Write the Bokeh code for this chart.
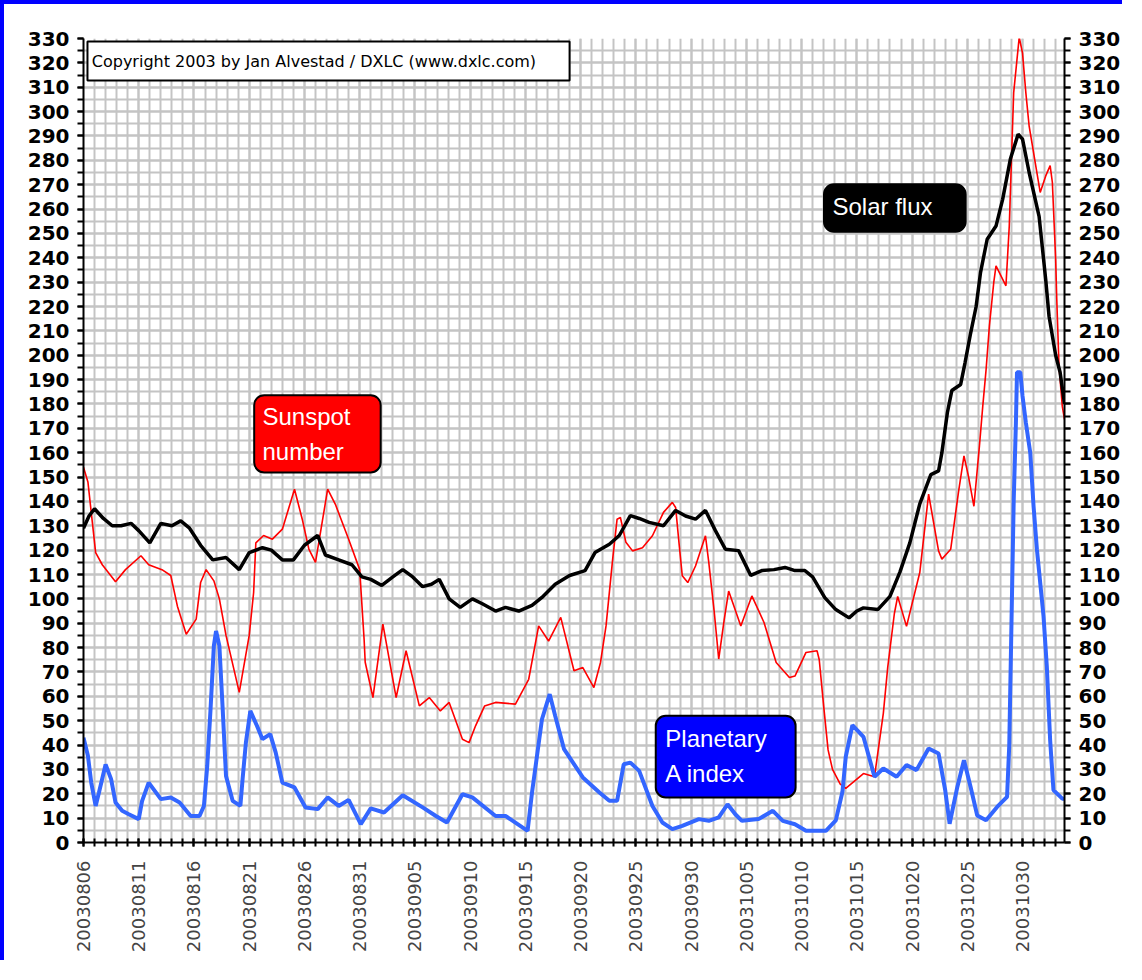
import math
from bokeh.plotting import figure
from bokeh.models import Range1d, LinearAxis, FixedTicker, BoxAnnotation, Label
from bokeh.embed import file_html
from bokeh.resources import INLINE

# ---------------- data ----------------
date_labels = ["20030806", "20030811", "20030816", "20030821", "20030826", "20030831",
               "20030905", "20030910", "20030915", "20030920", "20030925", "20030930",
               "20031005", "20031010", "20031015", "20031020", "20031025", "20031030"]
label_days = [0, 5, 10, 15, 20, 25, 30, 35, 40, 45, 50, 55, 60, 65, 70, 75, 80, 85]

# Solar flux (days after 2003-08-06, value)
flux_day = [0, 0.5, 1.0, 1.8, 2.6, 3.4, 4.3, 5.0, 6.0, 7.0, 8.0, 8.8, 9.6, 10.6, 11.7, 12.9,
            14.1, 15.0, 16.2, 17.0, 18.0, 19.0, 20.0, 21.2, 21.9, 23.1, 24.3, 25.2, 26.0, 27.0,
            28.0, 28.9, 29.8, 30.7, 31.5, 32.2, 33.1, 34.1, 35.2, 36.1, 37.3, 38.2, 39.4, 40.6,
            41.5, 42.7, 44.0, 45.4, 46.3, 47.6, 48.5, 49.5, 50.3, 51.2, 52.5, 53.6, 54.5, 55.4,
            56.3, 57.2, 58.1, 59.3, 60.4, 61.4, 62.5, 63.5, 64.4, 65.3, 66.0, 67.1, 68.1, 69.3,
            70.0, 70.6, 71.9, 73.0, 73.9, 74.8, 75.7, 76.7, 77.4, 77.7, 78.2, 78.6, 79.4, 79.8,
            80.3, 80.8, 81.2, 81.8, 82.6, 83.2, 83.9, 84.6, 85.0, 85.6, 86.5, 87.1, 87.4, 88.0,
            88.4, 88.8]
flux_val = [129, 134, 137, 133, 130, 130, 131, 128, 123, 131, 130, 132, 129, 122, 116, 117,
            112, 119, 121, 120, 116, 116, 122, 126, 118, 116, 114, 109, 108, 105.5,
            109, 112, 109, 105, 106, 108, 100, 96.5, 100, 98, 95, 96.5, 95, 97.3,
            100.6, 106, 109.6, 111.6, 119, 122.4, 126, 134.2, 133, 131.4, 130, 136.3, 134, 132.7,
            136.3, 128, 120.4, 119.8, 109.6, 111.6, 112, 112.9, 111.6, 111.6, 109, 100.5, 95.6, 92.2,
            95, 96.3, 95.6, 101, 111, 123, 139, 151, 152.5, 160, 176.5, 185.5, 188, 197,
            209, 220, 234, 247.6, 253, 264, 280.5, 290.7, 288.7, 275, 257, 231, 216, 200,
            193, 180]

# Sunspot number
ssn_day = [0, 0.4, 1.1, 1.7, 2.9, 3.8, 5.2, 5.9, 7.1, 7.9, 8.5, 9.3, 10.2, 10.6, 11.1, 11.8,
           12.3, 12.9, 14.1, 15.0, 15.4, 15.6, 16.3, 17.1, 18.0, 19.1, 19.8, 20.4, 21.0, 21.5,
           22.1, 22.8, 24.0, 25.0, 25.4, 25.5, 26.2, 27.1, 28.3, 29.2, 30.4, 31.3, 32.3, 33.1,
           34.3, 34.9, 35.5, 36.3, 37.3, 39.1, 40.3, 41.2, 42.1, 43.2, 44.4, 45.2, 46.2, 46.8,
           47.3, 47.9, 48.3, 48.6, 49.1, 49.7, 50.6, 51.5, 52.5, 53.3, 53.6, 53.9, 54.2, 54.7,
           55.4, 56.3, 56.6, 57.1, 57.5, 58.0, 58.4, 59.5, 60.5, 61.6, 62.7, 63.9, 64.4, 65.4,
           66.4, 66.6, 67.0, 67.4, 67.8, 68.5, 69.0, 70.6, 71.6, 72.4, 72.8, 73.4, 73.7, 74.5,
           75.7, 76.5, 77.4, 77.7, 78.5, 79.2, 79.7, 80.1, 80.6, 81.1, 81.4, 81.7, 82.0, 82.4,
           82.6, 83.5, 83.8, 84.2, 84.7, 85.0, 85.3, 85.6, 86.6, 87.1, 87.5, 87.7, 88.0, 88.1,
           88.3, 88.6, 88.8]
ssn_val = [154, 148, 119, 114, 107, 112, 117.7, 114, 112, 109.6, 97, 85.5, 91.7, 106.7, 112, 107.4,
           100, 85, 61.6, 85, 102.6, 123, 126, 124.5, 128.6, 145, 132.7, 120.4, 115, 128.6,
           145, 138.8, 124.5, 112, 83.4, 74, 59.5, 89.6, 59.5, 78.7, 56.1, 59.5, 54, 57.5,
           42.4, 41, 48, 56, 57.5, 56.8, 67, 88.9, 82.7, 92.4, 70.5, 71.8, 63.6, 73.9,
           88.9, 116.3, 132.7, 133.4, 123.2, 119.7, 121, 125.9, 135.5, 139.6, 137.5, 123.2, 109.5, 106.7,
           113.5, 125.9, 115, 94.4, 75.3, 91.6, 103.2, 88.9, 101.2, 90.3, 73.9, 67.7, 68.3, 78,
           78.7, 75, 56, 38, 30, 24, 22.2, 28.3, 27, 53, 72, 94, 101, 88.7,
           110.8, 143, 119.7, 116.3, 120.4, 143.7, 158.7, 150.5, 138, 162.8, 179, 194, 212, 230,
           236.7, 228.5, 253, 307.8, 330.5, 324, 307.8, 294, 266.8, 273.6, 277.8, 271, 239.4, 223,
           195.7, 179, 173.7]

# Planetary A index
ap_day = [0, 0.4, 0.7, 1.1, 1.4, 2.0, 2.5, 2.9, 3.5, 4.1, 5.0, 5.3, 5.9, 7.0, 7.9, 8.7,
          9.7, 10.5, 10.9, 11.2, 11.5, 11.8, 12.0, 12.3, 12.6, 12.9, 13.5, 14.2, 14.4, 14.7,
          15.1, 15.7, 16.2, 16.9, 17.4, 18.0, 19.1, 20.1, 21.2, 22.1, 23.1, 24.0, 25.1, 26.0,
          27.2, 28.9, 30.7, 31.9, 32.9, 34.3, 35.2, 37.3, 38.2, 40.2, 40.6, 41.5, 42.2, 42.7,
          43.5, 45.2, 46.7, 47.6, 48.3, 48.9, 49.5, 50.3, 51.5, 52.4, 53.3, 54.2, 55.7, 56.6,
          57.5, 58.3, 59.0, 59.6, 61.1, 62.4, 63.3, 64.4, 65.4, 67.2, 68.1, 68.7, 69.0, 69.6,
          70.6, 71.6, 72.4, 73.6, 74.5, 75.4, 76.5, 77.4, 78.0, 78.4, 79.1, 79.7, 80.3, 80.9,
          81.7, 82.7, 83.6, 83.8, 84.0, 84.2, 84.4, 84.5, 84.8, 85.0, 85.3, 85.7, 86.0, 86.3,
          86.9, 87.2, 87.5, 87.8, 88.6, 88.8]
ap_val = [43, 35.6, 24.6, 15, 20.5, 32, 26, 16.4, 13, 11.6, 9.6, 17, 24.6, 17.8, 18.5, 16.4,
          10.9, 10.9, 15, 31.4, 54.7, 80.7, 86.8, 80.7, 54.7, 27.3, 17.1, 15, 26, 41,
          54, 47.9, 42.4, 44.5, 36.9, 24.6, 22.6, 14.4, 13.7, 18.5, 15, 17.5, 7.5, 14,
          12.3, 19.4, 14.4, 10.9, 8.2, 19.8, 18.5, 10.9, 10.9, 4.8, 20.5, 50.6, 60.9, 51.9,
          38.3, 26.7, 20.5, 17.1, 17.1, 32.1, 32.8, 29.4, 15, 8.2, 5.5, 6.8, 9.6, 8.9,
          10.3, 15.7, 11.6, 8.9, 9.6, 13, 8.9, 7.5, 4.8, 4.8, 9.1, 20.8, 35.2, 48.2,
          43.4, 27, 30.4, 27, 31.8, 29.7, 38.6, 36.5, 21.5, 7.7, 22.8, 33.8, 22.8, 11.1,
          9.1, 14.6, 18.7, 40, 90, 140, 172, 193, 193, 183.3, 172.4, 160, 138, 120.4,
          92.9, 72.2, 42, 21.5, 18, 18]

# ---------------- figure ----------------
p = figure(width=1122, height=960,
           x_range=Range1d(0, 88.8), y_range=Range1d(0, 330),
           output_backend="svg", toolbar_location=None,
           min_border_left=79, min_border_right=62, min_border_top=34, min_border_bottom=122,
           background_fill_color="white", border_fill_color="white",
           outline_line_color=None)
p.styles = {"border-left": "4px solid #0000ff", "border-top": "4px solid #0000ff"}

xt = FixedTicker(ticks=label_days, minor_ticks=list(range(0, 89)))
yt = FixedTicker(ticks=list(range(0, 331, 10)), minor_ticks=list(range(0, 331, 5)))

xa = p.xaxis[0]
xa.ticker = xt
xa.major_label_overrides = {d: s for d, s in zip(label_days, date_labels)}
xa.major_label_orientation = math.pi / 2
xa.major_label_text_font = "DejaVu Sans"
xa.major_label_text_font_size = "18px"
xa.major_label_standoff = 14
xa.major_tick_in = 4
xa.major_tick_out = 4
xa.minor_tick_in = 4
xa.minor_tick_out = 4

ya = p.yaxis[0]
ya.ticker = yt
ra = LinearAxis(ticker=yt)
p.add_layout(ra, "right")
for a in [ya, ra]:
    a.major_tick_in = 0
    a.major_tick_out = 6
    a.minor_tick_in = 0
    a.minor_tick_out = 6
    a.major_label_text_font = "DejaVu Sans"
    a.major_label_text_font_style = "bold"
    a.major_label_text_font_size = "20px"
    a.major_label_text_color = "black"
    a.major_label_standoff = 8
for a in [xa, ya, ra]:
    a.axis_line_width = 2
    a.axis_line_color = "black"
    a.major_tick_line_width = 2
    a.minor_tick_line_width = 2
    a.major_tick_line_color = "black"
    a.minor_tick_line_color = "black"

for g in [p.xgrid[0], p.ygrid[0]]:
    g.grid_line_color = "#c4c4c4"
    g.grid_line_width = 2
    g.minor_grid_line_color = "#c4c4c4"
    g.minor_grid_line_width = 2
p.xgrid[0].ticker = xt
p.ygrid[0].ticker = yt

# ---------------- series ----------------
p.line(ssn_day, ssn_val, line_color="#ff0000", line_width=1.6)
p.line(flux_day, flux_val, line_color="black", line_width=3.5)
p.line(ap_day, ap_val, line_color="#3366ff", line_width=4)

# ---------------- annotations ----------------
p.add_layout(BoxAnnotation(left=0.36, right=44.0, bottom=312.8, top=328.8,
                           fill_color="white", fill_alpha=1, line_color="black",
                           line_alpha=1, line_width=2))
p.add_layout(Label(x=0.75, y=320.6, text="Copyright 2003 by Jan Alvestad / DXLC (www.dxlc.com)",
                   text_font="DejaVu Sans", text_font_size="16px", text_baseline="middle",
                   text_color="black"))

def tag(l, r, b, t, color, lines, tx, ty, ty2=None):
    p.add_layout(BoxAnnotation(left=l, right=r, bottom=b, top=t, fill_color=color,
                               fill_alpha=1, line_color="black", line_alpha=1,
                               line_width=2, border_radius=10))
    for txt, yy in zip(lines, [ty, ty2]):
        p.add_layout(Label(x=tx, y=yy, text=txt, text_font="Liberation Sans",
                           text_font_size="24px", text_color="white",
                           text_baseline="alphabetic"))

tag(15.45, 26.9, 151.9, 183.6, "#ff0000", ["Sunspot", "number"], 16.2, 175.0, 160.6)
tag(67.03, 79.85, 250.7, 270.2, "black", ["Solar flux"], 67.8, 261.2)
tag(51.8, 64.46, 18.5, 52.0, "#0000ff", ["Planetary", "A index"], 52.67, 42.8, 28.2)

open("out.html", "w").write(file_html(p, INLINE, title="Solar data"))
